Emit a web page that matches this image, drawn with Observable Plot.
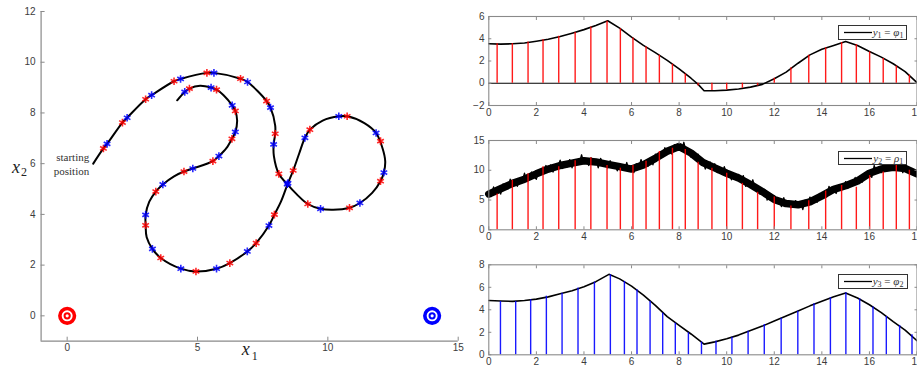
<!DOCTYPE html>
<html><head><meta charset="utf-8">
<script src="https://cdn.jsdelivr.net/npm/d3@7"></script>
<script src="https://cdn.jsdelivr.net/npm/@observablehq/plot@0.6"></script>
<style>
body{margin:0;background:#fff}
#wrap{position:relative;width:917px;height:370px;overflow:hidden;background:#fff}
.panel{position:absolute}
.leg{position:absolute;box-sizing:border-box;border:1px solid #333;background:#fff;font-family:"Liberation Serif",serif;font-size:11px;color:#333;white-space:nowrap}
.leg svg{position:absolute;left:4px;top:0}
.leg span{position:absolute;left:34px;top:-1px;line-height:14px}
.leg sub{font-size:8px;vertical-align:-2px;font-style:normal}
</style></head><body>
<div id="wrap">
<div id="left" class="panel" style="left:0;top:0;width:470px;height:370px"></div>
<div id="p1" class="panel" style="left:470px;top:0;width:447px;height:120px"></div>
<div id="p2" class="panel" style="left:470px;top:120px;width:447px;height:125px"></div>
<div id="p3" class="panel" style="left:470px;top:245px;width:447px;height:125px"></div>
<div class="leg" style="left:837.7px;top:25px;width:69px;height:15px"><svg width="30" height="13"><line x1="1" x2="29" y1="6.5" y2="6.5" stroke="#000" stroke-width="1.3"/></svg><span><i>y</i><sub>1</sub> = <i>φ</i><sub>1</sub></span></div>
<div class="leg" style="left:838.3px;top:150.7px;width:68.4px;height:14.5px"><svg width="30" height="13"><line x1="1" x2="29" y1="6.5" y2="6.5" stroke="#000" stroke-width="1.3"/></svg><span><i>y</i><sub>2</sub> = <i>ρ</i><sub>1</sub></span></div>
<div class="leg" style="left:837.7px;top:274.3px;width:70px;height:14.7px"><svg width="30" height="13"><line x1="1" x2="29" y1="6.5" y2="6.5" stroke="#000" stroke-width="1.3"/></svg><span><i>y</i><sub>3</sub> = <i>φ</i><sub>2</sub></span></div>
</div>
<script>
// ---------- data: left panel (trajectory in the plane) ----------
const trajectory = [
[1.0,6.0],[1.39,6.60],[1.53,6.78],[2.12,7.62],[2.30,7.81],[3.01,8.54],[3.24,8.70],[4.10,9.25],[4.35,9.34],
[5.36,9.58],[5.63,9.58],[6.65,9.35],[6.92,9.22],[7.65,8.47],[7.80,8.21],[7.98,7.5],[7.98,7.18],[7.92,6.76],
[7.93,6.3],[8.12,5.60],[8.44,5.19],[8.8,4.8],[9.23,4.41],[9.72,4.22],[10.2,4.18],[10.83,4.26],[11.23,4.45],
[11.7,4.85],[12.02,5.31],[12.15,5.65],[12.2,6.1],[12.1,6.6],[11.85,7.21],[11.4,7.6],[10.74,7.87],[10.42,7.87],
[9.8,7.7],[9.31,7.34],[9.12,7.02],[8.9,6.4],[8.67,5.73],[8.47,5.23],[8.2,4.5],[7.95,3.99],[7.74,3.56],
[7.25,2.87],[6.91,2.54],[6.24,2.08],[5.73,1.86],[4.94,1.75],[4.36,1.86],[3.59,2.28],[3.27,2.64],[3.05,3.1],
[3.01,3.57],[3.01,3.98],[3.15,4.5],[3.40,4.90],[3.67,5.18],[4.1,5.5],[4.48,5.69],[4.82,5.81],[5.59,6.10],
[5.82,6.30],[6.1,6.6],[6.32,6.98],[6.45,7.25],[6.52,7.7],[6.45,8.08],[6.33,8.30],[6.0,8.7],[5.73,8.92],
[5.52,9.00],[5.1,9.07],[4.69,8.96],[4.51,8.83],[4.22,8.50]
];
const redMarkers = [
[1.39,6.60],[2.12,7.62],[3.01,8.54],[4.10,9.25],[5.36,9.58],[6.65,9.35],[7.65,8.47],[7.98,7.18],[8.12,5.60],
[9.23,4.41],[10.83,4.26],[12.02,5.31],[12.02,6.89],[10.74,7.87],[9.31,7.34],[8.67,5.73],[7.95,3.99],[7.25,2.87],
[6.24,2.08],[4.94,1.75],[3.59,2.28],[3.01,3.57],[3.40,4.90],[4.48,5.69],[5.59,6.10],[6.32,6.98],[6.45,8.08],
[5.73,8.92],[4.69,8.96]
];
const blueMarkers = [
[1.53,6.78],[2.30,7.81],[3.24,8.70],[4.35,9.34],[5.63,9.58],[6.92,9.22],[7.80,8.21],[7.92,6.76],[8.44,5.19],
[9.72,4.22],[11.23,4.45],[12.15,5.65],[11.85,7.21],[10.42,7.87],[9.12,7.02],[8.47,5.23],[7.74,3.56],[6.91,2.54],
[5.73,1.86],[4.36,1.86],[3.27,2.64],[3.01,3.98],[3.67,5.18],[4.82,5.81],[5.82,6.30],[6.45,7.25],[6.33,8.30],
[5.52,9.00],[4.51,8.83]
];
const targets = [{x:0, y:0, color:"#ff0000"}, {x:14, y:0, color:"#0000ff"}];
const startNote = [{x:1.0, y:6.0, text:"starting\nposition"}];
const xTicksLeft = [0,5,10,15];
const yTicksLeft = [0,2,4,6,8,10,12];

// ---------- data: right panels (time series) ----------
const tTicks = [0,2,4,6,8,10,12,14,16,18];
const phi1Line = [
[0,3.55],[0.5,3.52],[1,3.55],[1.5,3.62],[2,3.78],[2.5,3.95],[3,4.2],[3.5,4.5],[4,4.82],[4.5,5.2],[5.0,5.62],
[5.5,4.95],[6,4.15],[6.5,3.4],[7,2.75],[7.5,2.05],[8,1.3],[8.5,0.45],[8.8,-0.1],[9.05,-0.68],[9.5,-0.68],
[10,-0.62],[10.5,-0.52],[11,-0.35],[11.5,-0.1],[12,0.4],[12.5,1.0],[13,1.8],[13.5,2.55],[14,3.05],[14.5,3.4],
[15,3.75],[15.5,3.4],[16,2.85],[16.5,2.35],[17,1.75],[17.5,1.05],[18,0.05]
];
const redTimes = [0.35,0.99,1.65,2.28,2.94,3.63,4.29,4.97,5.53,6.06,6.61,7.17,7.72,8.26,8.80,9.38,10.00,10.66,11.30,12.00,12.70,13.45,14.16,14.83,15.45,16.01,16.58,17.13,17.68];
const phi1Stems = [3.56,3.56,3.71,3.92,4.22,4.57,5.05,5.58,4.9,4.07,3.27,2.52,1.72,0.83,-0.24,-0.65,-0.6,-0.45,-0.24,0.45,1.4,2.52,3.18,3.65,3.47,2.82,2.23,1.54,0.74];
const rho1Trend = [
[0,6.0],[0.5,6.9],[1,7.8],[1.5,8.5],[2,9.4],[2.5,10.2],[3,10.8],[3.5,11.2],[4,11.6],[4.5,11.4],[5,11.0],
[5.5,10.6],[6,10.2],[6.5,10.9],[7,12.0],[7.5,13.2],[8,14.0],[8.5,12.9],[9,11.3],[9.5,10.4],[10,9.5],[10.5,8.7],
[11,7.6],[11.5,6.4],[12,5.1],[12.5,4.4],[13,4.2],[13.5,4.7],[14,5.7],[14.5,6.8],[15,7.4],[15.5,8.2],[16,9.5],
[16.5,10.2],[17,10.5],[17.5,10.3],[18,9.4]
];
// noisy measurement, sampled every 0.1 time units from t = 0 to 18
const rho1Samples = [
6.4,5.6,7.2,6.2,6.9,6.0,7.7,7.4,6.9,8.5,7.6,8.4,7.3,8.5,8.0,9.5,8.1,9.1,9.7,8.9,
8.5,10.0,9.8,9.4,10.8,10.0,10.9,9.7,10.9,10.6,11.7,10.3,11.2,10.6,11.8,10.4,11.8,11.4,11.1,12.6,
11.1,11.9,10.8,12.1,11.2,11.8,10.4,12.0,11.1,11.4,10.4,11.6,10.4,11.0,9.9,11.1,10.6,10.1,11.3,9.8,
10.5,9.6,11.1,10.4,11.8,10.5,11.3,10.7,12.1,10.9,12.7,12.1,12.9,12.2,13.8,12.9,13.5,12.7,14.3,13.6,
14.3,13.2,14.7,12.9,13.3,12.2,13.1,12.2,12.7,11.1,11.7,10.2,11.1,11.4,10.3,11.1,9.6,10.1,9.5,10.6,
9.3,9.8,8.4,9.3,8.4,9.3,8.4,9.1,7.3,8.0,7.2,8.4,6.8,7.4,6.0,6.5,6.8,5.0,6.0,5.2,
5.7,4.5,5.0,3.9,5.4,4.1,4.8,3.7,4.4,4.9,3.8,4.6,3.4,5.0,4.4,5.5,4.4,5.3,4.6,6.1,
5.6,6.3,5.5,7.3,6.3,7.0,6.1,7.5,7.2,6.9,8.1,7.0,8.0,7.7,8.8,7.7,8.6,8.0,9.6,8.9,
9.9,8.8,10.8,9.7,10.6,9.6,10.6,9.9,11.1,10.3,10.0,11.1,10.1,11.2,9.6,10.5,9.7,10.4,9.6,9.9,
9.5
];
const rho1Stems = [6.0,8.3,9.4,10.6,10.6,11.6,12.1,10.8,10.35,10.8,11.5,13.15,13.7,13.5,11.35,10.35,9.5,7.8,6.3,5.5,4.0,4.9,6.5,7.45,7.15,9.1,9.7,10.8,10.0];
const phi2Line = [
[0,4.82],[0.5,4.78],[1,4.75],[1.5,4.82],[2,4.95],[2.5,5.15],[3,5.42],[3.5,5.7],[4,6.05],[4.5,6.5],[5.05,7.15],
[5.5,6.75],[6,6.1],[6.5,5.3],[7,4.4],[7.5,3.4],[8,2.62],[8.5,1.85],[9.05,0.95],[9.5,1.15],[10,1.42],[10.5,1.75],
[11,2.15],[11.5,2.55],[12,3.0],[12.5,3.45],[13,3.9],[13.5,4.35],[14,4.75],[14.5,5.15],[15,5.5],[15.5,5.05],
[16,4.45],[16.5,3.75],[17,2.95],[17.5,2.2],[18,1.25]
];
const blueTimes = [0.49,1.13,1.76,2.42,3.08,3.75,4.44,5.11,5.70,6.23,6.78,7.31,7.84,8.39,8.94,9.55,10.22,10.90,11.58,12.29,12.99,13.67,14.36,15.01,15.59,16.15,16.71,17.27,17.79];
const phi2Stems = [4.74,4.74,4.89,5.21,5.48,5.93,6.46,7.11,6.52,5.78,4.74,3.7,2.81,1.96,1.13,1.21,1.57,2.1,2.7,3.26,3.88,4.53,5.07,5.51,4.98,4.24,3.41,2.61,1.78];

// ---------- styles ----------
const axisColor = "#8a8a8a";
const labelColor = "#3c3c3c";
const baseStyle = {fontFamily: "'Liberation Sans', Arial, sans-serif", fontSize: "10px", background: "transparent", overflow: "visible"};
const serif = "'Liberation Serif', 'DejaVu Serif', serif";

// ---------- left panel ----------
const left = Plot.plot({
  width: 470, height: 370,
  marginLeft: 40.6, marginRight: 12.3, marginTop: 11, marginBottom: 29.3,
  x: {domain: [-1, 15]}, y: {domain: [-1, 12]},
  style: baseStyle,
  marks: [
    Plot.ruleX([-1], {stroke: axisColor, strokeWidth: 1.2}),
    Plot.ruleY([-1], {stroke: axisColor, strokeWidth: 1.2}),
    Plot.axisX({ticks: xTicksLeft, tickSize: -4, tickPadding: 7, stroke: axisColor, fill: labelColor, label: null}),
    Plot.axisY({ticks: yTicksLeft, tickSize: -4, tickPadding: 9.5, stroke: axisColor, fill: labelColor, label: null}),
    Plot.line(trajectory, {x: d => d[0], y: d => d[1], curve: "catmull-rom", stroke: "#000", strokeWidth: 2}),
    Plot.dot(redMarkers, {x: d => d[0], y: d => d[1], symbol: "asterisk", r: 3.6, stroke: "#ff0000", strokeWidth: 1.6, strokeOpacity: 0.85}),
    Plot.dot(blueMarkers, {x: d => d[0], y: d => d[1], symbol: "asterisk", r: 3.6, stroke: "#0000ff", strokeWidth: 1.6, strokeOpacity: 0.85}),
    Plot.dot(targets, {x: "x", y: "y", r: 7.3, stroke: "color", strokeWidth: 3.6, fill: "none"}),
    Plot.dot(targets, {x: "x", y: "y", r: 2.6, stroke: "color", strokeWidth: 2, fill: "#fff"}),
    Plot.text(startNote, {x: "x", y: "y", text: "text", textAnchor: "end", dx: -4, lineHeight: 1.3, fontFamily: serif, fontSize: 11, fill: "#333"}),
    Plot.text(["x"], {frameAnchor: "bottom", dx: -4, dy: 14, fontFamily: serif, fontStyle: "italic", fontSize: 18, fill: "#222"}),
    Plot.text(["1"], {frameAnchor: "bottom", dx: 5, dy: 19, fontFamily: serif, fontSize: 12, fill: "#222"}),
    Plot.text(["x"], {frameAnchor: "left", dx: -29, dy: -9, fontFamily: serif, fontStyle: "italic", fontSize: 18, fill: "#222"}),
    Plot.text(["2"], {frameAnchor: "left", dx: -20, dy: -4, fontFamily: serif, fontSize: 12, fill: "#222"})
  ]
});
document.getElementById("left").appendChild(left);

// ---------- right panels ----------
function panel({height, mt, mb, yDomain, yTicks, lineMarks, times, stems, stemColor, zero}) {
  return Plot.plot({
    width: 447, height,
    marginLeft: 18.3, marginRight: 0.5, marginTop: mt, marginBottom: mb,
    x: {domain: [0, 18]}, y: {domain: yDomain},
    style: baseStyle,
    marks: [
      zero ? Plot.ruleY([0], {stroke: "#000", strokeWidth: 1.2}) : null,
      ...lineMarks,
      Plot.ruleX(stems.map((v, i) => [times[i], v]), {x: d => d[0], y1: 0, y2: d => d[1], stroke: stemColor, strokeWidth: 1.4, strokeOpacity: 0.9}),
      Plot.frame({stroke: axisColor, strokeWidth: 1.1}),
      Plot.axisX({ticks: tTicks, tickSize: -3, tickPadding: 6, stroke: axisColor, fill: labelColor, label: null}),
      Plot.axisX({anchor: "top", ticks: tTicks, tickSize: -3, stroke: axisColor, fill: "none", label: null}),
      Plot.axisY({ticks: yTicks, tickSize: -3, tickPadding: 7.3, stroke: axisColor, fill: labelColor, label: null}),
      Plot.axisY({anchor: "right", ticks: yTicks, tickSize: -3, stroke: axisColor, fill: "none", label: null})
    ]
  });
}

document.getElementById("p1").appendChild(panel({
  height: 120, mt: 16, mb: 15, yDomain: [-2, 6], yTicks: [-2,0,2,4,6],
  lineMarks: [Plot.line(phi1Line, {x: d => d[0], y: d => d[1], stroke: "#000", strokeWidth: 1.6})],
  times: redTimes, stems: phi1Stems, stemColor: "#ff0000", zero: true
}));
document.getElementById("p2").appendChild(panel({
  height: 125, mt: 20, mb: 15.7, yDomain: [0, 15], yTicks: [0,5,10,15],
  lineMarks: [
    Plot.line(rho1Trend, {x: d => d[0], y: d => d[1], stroke: "#000", strokeWidth: 7.5}),
    Plot.line(rho1Samples.map((v, i) => [i / 10, v]), {x: d => d[0], y: d => d[1], stroke: "#000", strokeWidth: 1.3})
  ],
  times: redTimes, stems: rho1Stems, stemColor: "#ff0000", zero: false
}));
document.getElementById("p3").appendChild(panel({
  height: 125, mt: 19.3, mb: 15.7, yDomain: [0, 8], yTicks: [0,2,4,6,8],
  lineMarks: [Plot.line(phi2Line, {x: d => d[0], y: d => d[1], stroke: "#000", strokeWidth: 1.6})],
  times: blueTimes, stems: phi2Stems, stemColor: "#0000ff", zero: false
}));
</script>
</body></html>
